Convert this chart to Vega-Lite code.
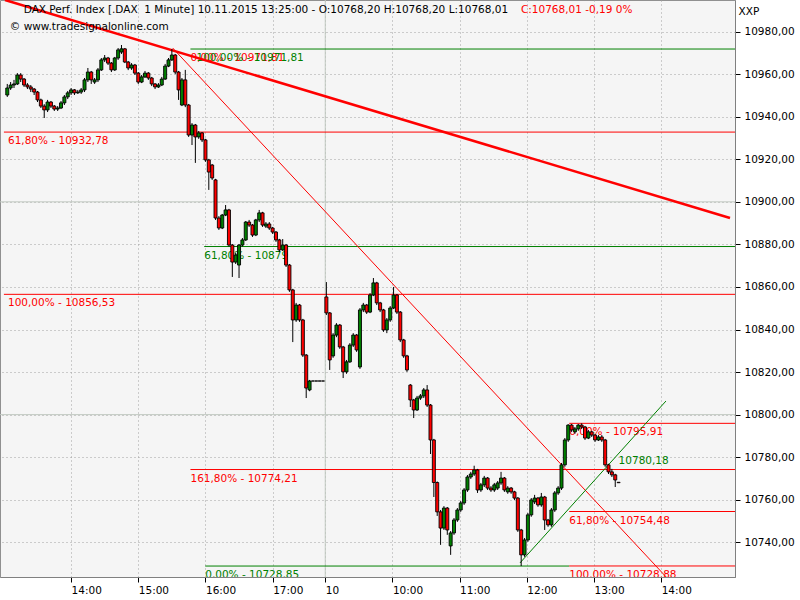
{
  "$schema": "https://vega.github.io/schema/vega-lite/v6.json",
  "width": 735,
  "height": 577,
  "autosize": {"type": "none"},
  "padding": {"left": 0, "top": 0, "right": 65, "bottom": 23},
  "background": "#ffffff",
  "config": {
    "view": {"fill": "#f5f5f5", "stroke": "#909090", "strokeWidth": 1},
    "font": "DejaVu Sans",
    "text": {"font": "DejaVu Sans", "fontSize": 10.5}
  },
  "datasets": {
    "candles": [
      {"m":3,"o":10950.2,"h":10955.4,"l":10949.3,"c":10953.5},
      {"m":6,"o":10953.5,"h":10956.3,"l":10952.6,"c":10954.9},
      {"m":9,"o":10954.9,"h":10957.3,"l":10953.5,"c":10955.4},
      {"m":12,"o":10955.4,"h":10960.5,"l":10954.9,"c":10959.6},
      {"m":15,"o":10959.6,"h":10960.5,"l":10956.3,"c":10957.7},
      {"m":18,"o":10957.7,"h":10958.2,"l":10954.0,"c":10954.9},
      {"m":21,"o":10954.9,"h":10955.8,"l":10953.0,"c":10954.0},
      {"m":24,"o":10954.0,"h":10954.9,"l":10951.6,"c":10953.0},
      {"m":27,"o":10953.0,"h":10953.5,"l":10950.2,"c":10951.6},
      {"m":30,"o":10951.6,"h":10952.1,"l":10946.9,"c":10947.9},
      {"m":33,"o":10947.9,"h":10948.5,"l":10944.1,"c":10945.0},
      {"m":36,"o":10945.0,"h":10945.9,"l":10939.4,"c":10943.2},
      {"m":39,"o":10943.2,"h":10947.9,"l":10942.2,"c":10946.9},
      {"m":42,"o":10946.9,"h":10947.4,"l":10944.1,"c":10945.0},
      {"m":45,"o":10945.0,"h":10945.5,"l":10942.7,"c":10943.6},
      {"m":48,"o":10943.6,"h":10945.0,"l":10942.7,"c":10944.1},
      {"m":51,"o":10944.1,"h":10947.4,"l":10943.6,"c":10946.5},
      {"m":54,"o":10946.5,"h":10950.2,"l":10945.5,"c":10949.3},
      {"m":57,"o":10949.3,"h":10952.1,"l":10948.3,"c":10951.2},
      {"m":60,"o":10951.2,"h":10953.5,"l":10950.2,"c":10952.6},
      {"m":63,"o":10952.6,"h":10953.0,"l":10950.2,"c":10951.2},
      {"m":66,"o":10951.2,"h":10952.6,"l":10950.7,"c":10951.6},
      {"m":69,"o":10951.6,"h":10953.5,"l":10950.7,"c":10952.6},
      {"m":72,"o":10952.6,"h":10958.2,"l":10951.6,"c":10957.3},
      {"m":75,"o":10957.3,"h":10962.9,"l":10956.3,"c":10961.0},
      {"m":78,"o":10961.0,"h":10961.5,"l":10955.4,"c":10957.3},
      {"m":81,"o":10956.3,"h":10958.2,"l":10955.4,"c":10957.3},
      {"m":84,"o":10957.3,"h":10962.9,"l":10956.3,"c":10962.0},
      {"m":87,"o":10962.0,"h":10967.6,"l":10961.5,"c":10966.7},
      {"m":90,"o":10966.7,"h":10969.0,"l":10965.7,"c":10967.6},
      {"m":93,"o":10967.6,"h":10968.1,"l":10964.3,"c":10965.2},
      {"m":96,"o":10965.2,"h":10965.7,"l":10961.0,"c":10962.0},
      {"m":99,"o":10962.0,"h":10968.1,"l":10961.5,"c":10967.6},
      {"m":102,"o":10967.6,"h":10972.3,"l":10966.7,"c":10971.4},
      {"m":105,"o":10970.4,"h":10973.7,"l":10969.5,"c":10971.9},
      {"m":108,"o":10971.9,"h":10972.3,"l":10965.2,"c":10965.7},
      {"m":111,"o":10965.7,"h":10966.2,"l":10961.9,"c":10962.9},
      {"m":114,"o":10962.9,"h":10965.2,"l":10962.0,"c":10964.3},
      {"m":117,"o":10964.3,"h":10964.8,"l":10959.6,"c":10960.5},
      {"m":120,"o":10960.5,"h":10961.0,"l":10955.4,"c":10956.3},
      {"m":123,"o":10956.3,"h":10959.6,"l":10955.8,"c":10958.7},
      {"m":126,"o":10958.7,"h":10961.5,"l":10958.2,"c":10960.5},
      {"m":129,"o":10960.5,"h":10961.0,"l":10957.3,"c":10958.2},
      {"m":132,"o":10958.2,"h":10958.7,"l":10954.4,"c":10955.4},
      {"m":135,"o":10955.4,"h":10955.8,"l":10953.0,"c":10954.0},
      {"m":138,"o":10954.0,"h":10955.8,"l":10953.5,"c":10954.9},
      {"m":141,"o":10954.9,"h":10958.7,"l":10954.4,"c":10957.7},
      {"m":144,"o":10957.7,"h":10964.8,"l":10957.3,"c":10963.8},
      {"m":147,"o":10963.8,"h":10967.6,"l":10963.3,"c":10966.7},
      {"m":150,"o":10966.7,"h":10971.8,"l":10966.2,"c":10969.0},
      {"m":153,"o":10969.0,"h":10969.5,"l":10960.0,"c":10961.0},
      {"m":156,"o":10961.0,"h":10961.5,"l":10947.9,"c":10952.6},
      {"m":159,"o":10945.5,"h":10958.2,"l":10945.0,"c":10957.3},
      {"m":162,"o":10957.3,"h":10962.0,"l":10944.5,"c":10945.5},
      {"m":165,"o":10945.5,"h":10946.0,"l":10930.5,"c":10931.4},
      {"m":168,"o":10931.4,"h":10937.0,"l":10926.7,"c":10936.1},
      {"m":171,"o":10936.1,"h":10936.6,"l":10918.3,"c":10930.5},
      {"m":174,"o":10930.5,"h":10933.3,"l":10929.6,"c":10932.4},
      {"m":177,"o":10932.4,"h":10932.8,"l":10928.1,"c":10929.1},
      {"m":180,"o":10929.1,"h":10929.6,"l":10918.8,"c":10919.7},
      {"m":183,"o":10919.7,"h":10920.2,"l":10905.6,"c":10914.0},
      {"m":186,"o":10917.3,"h":10917.8,"l":10910.3,"c":10911.2},
      {"m":189,"o":10910.3,"h":10910.8,"l":10891.5,"c":10892.4},
      {"m":192,"o":10892.4,"h":10893.3,"l":10886.8,"c":10887.7},
      {"m":195,"o":10887.7,"h":10894.3,"l":10887.2,"c":10893.8},
      {"m":198,"o":10893.8,"h":10898.5,"l":10893.3,"c":10896.2},
      {"m":201,"o":10896.2,"h":10896.7,"l":10879.0,"c":10879.7},
      {"m":204,"o":10879.7,"h":10880.2,"l":10864.7,"c":10871.7},
      {"m":207,"o":10871.7,"h":10875.9,"l":10870.8,"c":10875.0},
      {"m":210,"o":10870.3,"h":10880.2,"l":10864.2,"c":10879.7},
      {"m":213,"o":10879.7,"h":10883.0,"l":10879.0,"c":10882.1},
      {"m":216,"o":10882.1,"h":10891.0,"l":10881.6,"c":10890.5},
      {"m":219,"o":10890.5,"h":10891.5,"l":10888.2,"c":10889.1},
      {"m":222,"o":10889.1,"h":10889.6,"l":10883.5,"c":10884.4},
      {"m":225,"o":10884.4,"h":10892.0,"l":10883.9,"c":10891.5},
      {"m":228,"o":10891.5,"h":10896.2,"l":10890.5,"c":10894.8},
      {"m":231,"o":10894.8,"h":10895.3,"l":10888.2,"c":10889.1},
      {"m":234,"o":10888.6,"h":10890.5,"l":10887.7,"c":10889.6},
      {"m":237,"o":10889.6,"h":10890.5,"l":10886.8,"c":10887.7},
      {"m":240,"o":10887.7,"h":10888.2,"l":10884.9,"c":10885.8},
      {"m":243,"o":10885.8,"h":10886.3,"l":10881.2,"c":10882.1},
      {"m":246,"o":10882.1,"h":10882.6,"l":10876.4,"c":10877.4},
      {"m":249,"o":10877.4,"h":10882.5,"l":10876.9,"c":10879.7},
      {"m":252,"o":10879.7,"h":10880.2,"l":10869.4,"c":10870.3},
      {"m":255,"o":10870.3,"h":10870.8,"l":10857.7,"c":10858.6},
      {"m":258,"o":10858.6,"h":10859.1,"l":10834.1,"c":10844.5},
      {"m":261,"o":10844.5,"h":10852.5,"l":10843.6,"c":10851.5},
      {"m":264,"o":10851.5,"h":10852.0,"l":10843.6,"c":10844.5},
      {"m":267,"o":10844.5,"h":10845.0,"l":10827.1,"c":10828.0},
      {"m":270,"o":10828.0,"h":10828.5,"l":10807.8,"c":10812.5},
      {"m":273,"o":10811.6,"h":10816.3,"l":10811.0,"c":10815.8},
      {"m":276,"o":10815.8,"h":10815.8,"l":10815.8,"c":10815.8},
      {"m":279,"o":10815.8,"h":10815.8,"l":10815.8,"c":10815.8},
      {"m":282,"o":10815.8,"h":10815.8,"l":10815.8,"c":10815.8},
      {"m":285,"o":10815.8,"h":10815.8,"l":10815.8,"c":10815.8},
      {"m":288,"o":10855.3,"h":10862.3,"l":10846.8,"c":10847.8},
      {"m":291,"o":10847.8,"h":10848.2,"l":10821.0,"c":10825.7},
      {"m":294,"o":10827.6,"h":10838.3,"l":10826.7,"c":10837.4},
      {"m":297,"o":10837.4,"h":10843.0,"l":10836.4,"c":10842.1},
      {"m":300,"o":10842.1,"h":10842.6,"l":10830.9,"c":10831.8},
      {"m":303,"o":10831.8,"h":10832.3,"l":10817.2,"c":10820.1},
      {"m":306,"o":10820.1,"h":10825.7,"l":10819.2,"c":10824.8},
      {"m":309,"o":10824.8,"h":10833.6,"l":10824.3,"c":10832.7},
      {"m":312,"o":10832.7,"h":10838.3,"l":10831.8,"c":10837.4},
      {"m":315,"o":10837.4,"h":10837.9,"l":10829.5,"c":10830.4},
      {"m":318,"o":10822.4,"h":10850.1,"l":10821.5,"c":10849.2},
      {"m":321,"o":10849.2,"h":10852.5,"l":10848.2,"c":10851.5},
      {"m":324,"o":10851.5,"h":10852.0,"l":10847.3,"c":10848.2},
      {"m":327,"o":10848.2,"h":10857.1,"l":10847.7,"c":10856.2},
      {"m":330,"o":10856.2,"h":10864.2,"l":10855.7,"c":10861.9},
      {"m":333,"o":10861.9,"h":10862.4,"l":10851.5,"c":10852.5},
      {"m":336,"o":10852.5,"h":10853.0,"l":10848.2,"c":10849.2},
      {"m":339,"o":10849.2,"h":10849.7,"l":10838.9,"c":10839.8},
      {"m":342,"o":10839.8,"h":10845.4,"l":10838.3,"c":10844.5},
      {"m":345,"o":10844.5,"h":10851.0,"l":10843.6,"c":10850.1},
      {"m":348,"o":10850.1,"h":10860.0,"l":10849.6,"c":10856.2},
      {"m":351,"o":10856.2,"h":10856.7,"l":10847.3,"c":10848.2},
      {"m":354,"o":10848.2,"h":10848.7,"l":10834.1,"c":10835.1},
      {"m":357,"o":10835.1,"h":10835.6,"l":10826.7,"c":10827.6},
      {"m":360,"o":10827.6,"h":10828.1,"l":10820.1,"c":10821.0},
      {"m":363,"o":10813.9,"h":10814.4,"l":10803.6,"c":10806.9},
      {"m":366,"o":10806.9,"h":10807.4,"l":10798.4,"c":10802.2},
      {"m":369,"o":10802.2,"h":10808.8,"l":10801.7,"c":10807.8},
      {"m":372,"o":10807.8,"h":10809.7,"l":10806.9,"c":10808.8},
      {"m":375,"o":10808.8,"h":10812.5,"l":10807.8,"c":10811.6},
      {"m":378,"o":10811.6,"h":10813.9,"l":10803.6,"c":10804.5},
      {"m":381,"o":10804.5,"h":10805.0,"l":10781.5,"c":10788.1},
      {"m":384,"o":10788.1,"h":10788.6,"l":10761.3,"c":10768.1},
      {"m":387,"o":10768.1,"h":10768.6,"l":10752.4,"c":10754.3},
      {"m":390,"o":10754.3,"h":10755.2,"l":10738.8,"c":10746.7},
      {"m":393,"o":10746.7,"h":10757.0,"l":10745.8,"c":10756.1},
      {"m":396,"o":10756.1,"h":10756.6,"l":10743.5,"c":10745.8},
      {"m":399,"o":10738.3,"h":10745.3,"l":10734.1,"c":10744.4},
      {"m":402,"o":10744.4,"h":10751.4,"l":10743.5,"c":10750.5},
      {"m":405,"o":10750.5,"h":10756.1,"l":10749.6,"c":10755.2},
      {"m":408,"o":10755.2,"h":10759.4,"l":10754.3,"c":10758.5},
      {"m":411,"o":10758.5,"h":10765.5,"l":10757.6,"c":10764.6},
      {"m":414,"o":10764.6,"h":10771.6,"l":10763.7,"c":10770.7},
      {"m":417,"o":10770.7,"h":10773.1,"l":10769.8,"c":10772.1},
      {"m":420,"o":10772.1,"h":10776.0,"l":10771.2,"c":10774.0},
      {"m":423,"o":10774.0,"h":10774.5,"l":10763.2,"c":10764.6},
      {"m":426,"o":10764.6,"h":10767.9,"l":10763.7,"c":10767.0},
      {"m":429,"o":10767.0,"h":10771.2,"l":10766.0,"c":10770.2},
      {"m":432,"o":10770.2,"h":10770.7,"l":10764.6,"c":10765.5},
      {"m":435,"o":10765.5,"h":10766.4,"l":10763.7,"c":10764.6},
      {"m":438,"o":10764.6,"h":10767.9,"l":10763.7,"c":10767.0},
      {"m":441,"o":10765.5,"h":10768.8,"l":10764.6,"c":10767.9},
      {"m":444,"o":10767.9,"h":10773.1,"l":10767.0,"c":10770.2},
      {"m":447,"o":10770.2,"h":10770.7,"l":10763.7,"c":10764.6},
      {"m":450,"o":10763.7,"h":10766.4,"l":10762.8,"c":10765.5},
      {"m":453,"o":10765.5,"h":10766.0,"l":10762.8,"c":10763.7},
      {"m":456,"o":10763.7,"h":10764.2,"l":10759.9,"c":10760.8},
      {"m":459,"o":10760.8,"h":10761.3,"l":10744.9,"c":10745.8},
      {"m":462,"o":10745.8,"h":10746.3,"l":10728.85,"c":10734.1},
      {"m":465,"o":10734.1,"h":10742.0,"l":10733.2,"c":10741.1},
      {"m":468,"o":10741.1,"h":10753.8,"l":10740.2,"c":10752.9},
      {"m":471,"o":10752.9,"h":10760.8,"l":10752.0,"c":10759.9},
      {"m":474,"o":10759.0,"h":10762.3,"l":10758.0,"c":10760.8},
      {"m":477,"o":10760.8,"h":10761.3,"l":10756.7,"c":10757.6},
      {"m":480,"o":10757.6,"h":10763.2,"l":10756.7,"c":10761.3},
      {"m":483,"o":10761.3,"h":10761.8,"l":10745.8,"c":10750.5},
      {"m":486,"o":10750.5,"h":10751.0,"l":10747.3,"c":10748.2},
      {"m":489,"o":10748.2,"h":10756.1,"l":10747.3,"c":10755.2},
      {"m":492,"o":10755.2,"h":10764.1,"l":10754.3,"c":10763.2},
      {"m":495,"o":10763.2,"h":10766.4,"l":10762.3,"c":10765.5},
      {"m":498,"o":10765.5,"h":10777.3,"l":10764.6,"c":10776.4},
      {"m":501,"o":10776.4,"h":10789.0,"l":10775.5,"c":10788.1},
      {"m":504,"o":10788.1,"h":10795.5,"l":10787.2,"c":10795.1},
      {"m":507,"o":10795.1,"h":10795.6,"l":10791.9,"c":10792.8},
      {"m":510,"o":10791.9,"h":10794.2,"l":10791.0,"c":10793.3},
      {"m":513,"o":10793.3,"h":10795.6,"l":10792.4,"c":10795.1},
      {"m":516,"o":10795.1,"h":10795.91,"l":10793.3,"c":10794.2},
      {"m":519,"o":10794.2,"h":10794.7,"l":10788.1,"c":10789.0},
      {"m":522,"o":10789.0,"h":10792.8,"l":10788.5,"c":10791.9},
      {"m":525,"o":10791.9,"h":10792.4,"l":10789.5,"c":10790.4},
      {"m":528,"o":10790.4,"h":10790.9,"l":10787.2,"c":10788.1},
      {"m":531,"o":10788.1,"h":10790.4,"l":10787.6,"c":10789.5},
      {"m":534,"o":10789.5,"h":10790.4,"l":10787.2,"c":10788.1},
      {"m":537,"o":10788.1,"h":10788.6,"l":10775.5,"c":10776.4},
      {"m":540,"o":10776.4,"h":10776.9,"l":10772.1,"c":10773.1},
      {"m":543,"o":10773.1,"h":10774.5,"l":10770.7,"c":10771.7},
      {"m":546,"o":10771.7,"h":10772.2,"l":10766.0,"c":10769.3},
      {"m":549,"o":10768.2,"h":10768.2,"l":10768.01,"c":10768.01}
    ],
    "hlines": [
      {"m1":0,"m2":700,"p":10932.78,"col":"#ff0000"},
      {"m1":0,"m2":700,"p":10856.53,"col":"#ff0000"},
      {"m1":166.6,"m2":700,"p":10971.81,"col":"#008000"},
      {"m1":178.9,"m2":700,"p":10879.0,"col":"#008000"},
      {"m1":179.8,"m2":504.9,"p":10728.85,"col":"#008000"},
      {"m1":504.9,"m2":700,"p":10728.88,"col":"#ff0000"},
      {"m1":166.6,"m2":700,"p":10774.21,"col":"#ff0000"},
      {"m1":504.9,"m2":700,"p":10795.91,"col":"#ff0000"},
      {"m1":504.9,"m2":700,"p":10754.48,"col":"#ff0000"}
    ],
    "grid": [
      {"p":10800},
      {"p":10900}
    ],
    "vgrid": [
      {"m":287}
    ],
    "flabels": [
      {"m":3.6,"p":10932.78,"t":"61,80% - 10932,78","col":"#ff0000"},
      {"m":3.6,"p":10856.53,"t":"100,00% - 10856,53","col":"#ff0000"},
      {"m":166.6,"p":10971.81,"t":"0,00% - 10971,81","col":"#ff0000"},
      {"m":172.0,"p":10971.81,"t":"100,00% - 10971,81","col":"#008000"},
      {"m":178.9,"p":10879.0,"t":"61,80% - 10879","col":"#008000"},
      {"m":179.8,"p":10728.85,"t":"0,00% - 10728,85","col":"#008000"},
      {"m":166.6,"p":10774.21,"t":"161,80% - 10774,21","col":"#ff0000"},
      {"m":504.9,"p":10795.91,"t":"0,00% - 10795,91","col":"#ff0000"},
      {"m":504.9,"p":10754.48,"t":"61,80% - 10754,48","col":"#ff0000"},
      {"m":504.9,"p":10728.88,"t":"100,00% - 10728,88","col":"#ff0000"}
    ],
    "tlines": [
      {"id":"a","m":0.97,"p":10994.85,"col":"#ff0000","w":2.5},
      {"id":"a","m":648.5,"p":10892.4,"col":"#ff0000","w":2.5},
      {"id":"b","m":150.7,"p":10972.3,"col":"#ff0000","w":1},
      {"id":"b","m":594.0,"p":10722.3,"col":"#ff0000","w":1},
      {"id":"c","m":460.9,"p":10730.3,"col":"#008000","w":1},
      {"id":"c","m":591.3,"p":10806.4,"col":"#008000","w":1}
    ],
    "notes": [
      {"m":17.7,"p":10990.15,"t":"DAX Perf. Index [.DAX \u00a01 Minute] 10.11.2015 13:25:00 - O:10768,20 H:10768,20 L:10768,01","col":"#000000"},
      {"m":461.8,"p":10990.15,"t":"C:10768,01 -0,19 0%","col":"#ff0000"},
      {"m":5.3,"p":10982.2,"t":"© www.tradesignalonline.com","col":"#000000"},
      {"m":549.0,"p":10778.2,"t":"10780,18","col":"#008000"}
    ]
  },
  "encoding": {
    "x": {
      "field": "m", "type": "quantitative",
      "scale": {"domain": [0.97, 648.5], "nice": false, "zero": false},
      "axis": {
        "orient": "bottom", "title": null,
        "values": [60, 120, 180, 240, 287, 347, 407, 467, 527, 587],
        "labelExpr": "datum.value == 287 ? '10' : ((datum.value < 287 ? 13 + datum.value / 60 : 9 + (datum.value - 287) / 60) + ':00')",
        "labelAlign": "left", "labelDx": 1, "labelPadding": 3, "labelFontSize": 10.5, "labelColor": "#000000", "labelFont": "DejaVu Sans",
        "tickSize": 5, "tickColor": "#000000", "domainColor": "#808080",
        "grid": true, "gridColor": "#a0a0a0", "gridDash": [1, 3]
      }
    },
    "y": {
      "field": "p", "type": "quantitative",
      "scale": {"domain": [10723.7, 10994.85], "nice": false, "zero": false},
      "axis": {
        "orient": "right",
        "values": [10740, 10760, 10780, 10800, 10820, 10840, 10860, 10880, 10900, 10920, 10940, 10960, 10980],
        "labelExpr": "replace(format(datum.value, '.2f'), '.', ',')",
        "labelPadding": 4, "labelFontSize": 10.5, "labelColor": "#000000", "labelFont": "DejaVu Sans",
        "tickSize": 5, "tickColor": "#000000", "domainColor": "#808080",
        "grid": true, "gridColor": "#a0a0a0", "gridDash": [1, 3],
        "title": "XXP", "titleAngle": 0, "titleX": 3, "titleY": 6, "titleAlign": "left", "titleBaseline": "top",
        "titleFontWeight": "normal", "titleFontSize": 10.5, "titleColor": "#000000", "titleFont": "DejaVu Sans"
      }
    }
  },
  "layer": [
    {
      "data": {"name": "grid"},
      "mark": {"type": "rule", "color": "#c0c8c0", "strokeWidth": 1},
      "encoding": {"x": null}
    },
    {
      "data": {"name": "vgrid"},
      "mark": {"type": "rule", "color": "#c0c8c0", "strokeWidth": 1},
      "encoding": {"y": null}
    },
    {
      "data": {"name": "hlines"},
      "mark": {"type": "rule", "strokeWidth": 1, "clip": true},
      "encoding": {
        "x": {"field": "m1", "type": "quantitative"},
        "x2": {"field": "m2"},
        "color": {"field": "col", "type": "nominal", "scale": null}
      }
    },
    {
      "data": {"name": "flabels"},
      "mark": {"type": "text", "align": "left", "baseline": "top", "dy": 4, "fontSize": 10.5, "clip": true},
      "encoding": {
        "text": {"field": "t"},
        "color": {"field": "col", "type": "nominal", "scale": null}
      }
    },
    {
      "data": {"name": "tlines"},
      "mark": {"type": "line", "clip": true},
      "encoding": {
        "detail": {"field": "id"},
        "color": {"field": "col", "type": "nominal", "scale": null},
        "strokeWidth": {"field": "w", "type": "quantitative", "scale": null}
      }
    },
    {
      "data": {"name": "candles"},
      "mark": {"type": "rule", "color": "#000000", "strokeWidth": 1, "clip": true},
      "encoding": {
        "y": {"field": "l", "type": "quantitative"},
        "y2": {"field": "h"}
      }
    },
    {
      "data": {"name": "candles"},
      "mark": {"type": "bar", "size": 3, "stroke": "#000000", "strokeWidth": 0.9, "clip": true},
      "encoding": {
        "y": {"field": "o", "type": "quantitative"},
        "y2": {"field": "c"},
        "fill": {"condition": {"test": "datum.c >= datum.o", "value": "#008000"}, "value": "#ff0000"}
      }
    },
    {
      "data": {"name": "notes"},
      "mark": {"type": "text", "align": "left", "baseline": "middle", "fontSize": 10.5},
      "encoding": {
        "text": {"field": "t"},
        "color": {"field": "col", "type": "nominal", "scale": null}
      }
    }
  ]
}
